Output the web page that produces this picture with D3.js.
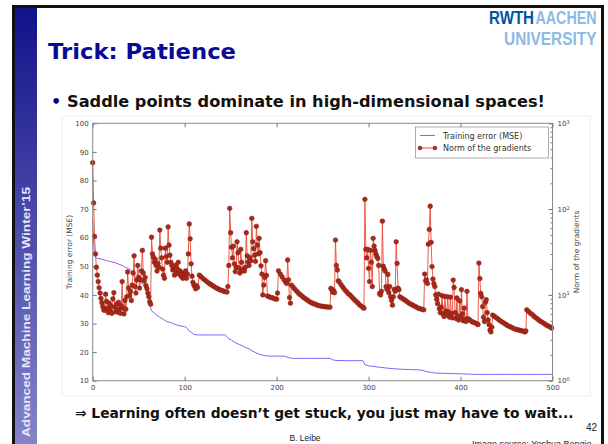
<!DOCTYPE html>
<html>
<head>
<meta charset="utf-8">
<script src="https://cdnjs.cloudflare.com/ajax/libs/d3/7.8.5/d3.min.js"></script>
<style>
  body { margin: 0; background: #fff; }
  svg { display: block; }
</style>
</head>
<body>
<svg id="slide" width="608" height="444"></svg>
<script>
// Training error (MSE), left axis: [iteration, error]
const trainMse = [
  [0,66],[1,58],[2,54],[3,53.2],[5,52.8],[10,52.5],[15,52],[20,51.6],[25,51.2],[28,50.8],[32,50.3],
  [36,49.6],[40,49],[43,48.2],[46,46.5],[50,45],[53,44.3],[56,43],[59,41.5],[61,40.2],[62,39],
  [63,35.5],[64,34.5],[67,33.6],[70,32.8],[73,32.2],[77,31.4],[80,30.8],[84,30.4],[88,29.9],
  [92,29.4],[96,29.1],[100,28.9],[102,28.6],[104,27.6],[107,27],[110,26.2],[114,26],[120,26],
  [130,26],[140,26],[144,26],[146,25.4],[148,24.6],[151,24.2],[154,23.5],[157,23],[160,22.6],
  [163,22.2],[166,21.6],[170,21.2],[173,20.5],[176,20],[180,19.4],[184,19],[188,18.7],[192,18.6],
  [200,18.6],[208,18.6],[211,18.3],[214,18],[218,17.8],[230,17.8],[245,17.8],[258,17.8],[261,17.3],
  [264,17.1],[275,17],[285,17],[294,17],[295,16.2],[296,15.6],[300,15.2],[305,15],[312,14.7],
  [320,14.4],[327,14.2],[335,14],[345,13.9],[355,13.8],[360,13.5],[364,13.1],[368,12.9],[372,12.7],
  [380,12.6],[390,12.5],[400,12.4],[410,12.3],[416,12.2],[430,12.2],[450,12.2],[470,12.2],
  [490,12.2],[500,12.2]
];

// Norm of the gradients, right log axis: [iteration, norm]
const gradNorm = [
  [0,347],[1,118],[2,48],[3,30],[4,21],[5,17],[6,14.3],[7,12.1],[8,10.5],[9,9.1],[10,8.1],[11,7.3],
  [12,6.7],[13,6.6],[14,10.2],[15,8.4],[16,7.0],[17,6.2],[18,8.0],[19,6.5],[20,7.4],[21,6.1],[22,9.0],
  [23,10.6],[24,7.2],[25,6.4],[26,7.8],[27,6.3],[28,8.2],[29,6.8],[30,6.1],[31,7.5],[32,14.3],[33,7.0],
  [34,6.0],[35,8.6],[36,6.8],[37,9.5],[38,18.5],[39,12],[40,9.8],[41,11],[42,8.6],[43,13],[44,18],
  [45,28.5],[46,12.5],[47,10.5],[48,14.9],[49,22],[50,16],[51,12],[52,15],[53,19],[54,33],[55,18],
  [56,14.5],[57,16],[58,12.8],[59,11.8],[60,10.5],[61,9.5],[62,8.3],[63,7.8],
  [64,47],[65,30],[66,27.5],[67,24],[68,26],[69,22],[70,19],[71,23.3],[72,21],[73,57],[74,35],[75,27],
  [76,20],[77,17],[78,15.6],[79,35],[80,28],[81,24],[82,62],[83,38],[84,29],[85,24],[86,22],[87,19.5],
  [88,21],[89,17],[90,22],[91,18],[92,20],[93,24],[94,17.5],[95,19],[96,16.5],[97,18],[98,15.6],[99,17],
  [100,16],[101,19],[102,15.6],[103,17.5],[104,30],[105,67],[106,45],[107,23],[108,16.5],[109,14],
  [110,13],[111,12.5],[112,11.8],[113,12.8],[114,12.2],
  [116,17],[118,16.2],[120,15.5],[122,14.9],[124,14.3],[126,13.8],[128,13.3],[130,12.9],[132,12.5],
  [134,12.1],[136,11.8],[138,11.5],[140,11.3],[142,11.1],[144,10.9],[146,10.8],
  [147,12.5],[148,22],[149,102],[150,53],[151,36],[152,27],[153,37],[154,23],[155,18.7],[156,21],
  [157,41.6],[158,31],[159,20.6],[160,18],[161,34],[162,24],[163,19.2],[164,20],[165,19],[166,21],
  [167,53],[168,28.5],[169,24.2],[170,22],[171,27],[172,25],[173,78],[174,41.6],[175,34.6],[176,29],
  [177,24.6],[178,63],[179,38],[180,30],[181,45.6],[182,31],[183,21.8],[184,17.5],[185,10],[186,13],
  [187,16],[188,25],[189,16.9],[190,9.7],
  [192,9.5],[194,9.3],[196,9.2],[198,9.0],[200,8.9],
  [201,10.5],[202,19.1],[204,17.5],[206,16.2],[208,15],[210,14],[211,13.6],[212,25.5],[213,15],
  [214,9.3],[215,8],
  [216,13],[218,12.3],[220,11.6],[222,11],[224,10.4],[226,10],[228,9.6],[230,9.2],[232,8.9],[234,8.6],
  [236,8.3],[238,8.1],[240,7.9],[242,7.8],[244,7.6],[246,7.5],[248,7.4],[250,7.35],[252,7.3],
  [254,7.25],[256,7.2],[258,7.2],
  [259,11.9],[260,11.6],[261,10.8],[262,11.2],[263,10.6],[264,43.5],[265,22],[266,19.5],[267,14.6],
  [268,14.2],[270,13.2],[272,12.3],[274,11.5],[276,10.9],[278,10.3],[280,9.9],[282,9.4],[284,8.9],
  [286,8.5],[288,8.1],[290,7.7],[292,7.4],[294,7.1],
  [295,7.0],[296,130],[297,34],[298,27],[299,34],[300,20.4],[301,14.3],[302,33],[303,24],[304,12.5],
  [305,45.7],[306,37],[307,33],[308,30],[309,28],[310,26.5],[311,22],[312,10.4],[313,10],[314,11],
  [315,72.4],[316,21.6],[317,20],[318,19],[319,12.5],[320,11.6],[321,17.3],[322,10.6],[323,12.5],
  [324,9.5],[325,8.6],[326,7.6],[327,9.5],[328,11.6],[329,11],[330,41.6],[331,23.3],[332,12],[333,11.5],
  [334,9.5],[336,9.2],[338,8.9],[340,8.6],[342,8.3],[344,8.0],[346,7.8],[348,7.6],[350,7.4],[352,7.2],
  [354,7.0],[356,6.9],[358,6.8],[360,6.7],
  [361,17.5],[362,14.6],[363,15],[364,13.6],[365,39],[366,58],[367,108],[368,41],[369,21.4],[370,15.3],
  [371,13.5],[372,12.5],
  [373,10],[374,8.9],[375,7.9],[376,10.2],[377,6.9],[378,6.2],[379,7.2],[380,9.8],[381,6.0],[382,5.6],
  [383,9.6],[384,6.5],[385,5.8],[386,9.5],[387,6.3],[388,5.5],[389,9.4],[390,6.0],[391,5.4],[392,14.9],
  [393,12.2],[394,6.2],[395,5.3],[396,9.2],[397,5.7],[398,5.1],[399,8.5],[400,5.5],[401,11.5],[402,6.0],
  [403,5.0],[404,7.0],[405,5.2],[406,4.9],[407,11],[408,5.3],
  [410,5.1],[412,4.9],[414,4.8],[416,4.7],[418,4.6],[419,4.5],
  [420,23.5],[421,15.5],[422,10.4],[423,9.5],[424,7.3],[425,5.5],[426,4.9],[427,8.2],[428,8.8],[429,6.2],
  [430,5.1],[431,4.5],[432,3.9],[433,3.7],[434,4.2],
  [435,5.8],[437,5.6],[439,5.4],[441,5.2],[443,5.0],[445,4.85],[447,4.7],[449,4.55],[451,4.4],[453,4.3],
  [455,4.2],[457,4.1],[459,4.0],[461,3.95],[463,3.9],[465,3.85],[467,3.8],[469,3.75],[470,3.7],
  [471,3.8],[472,6.7],[474,6.4],[476,6.1],[478,5.9],[480,5.6],[482,5.4],[484,5.2],[486,5.0],[488,4.85],
  [490,4.7],[492,4.55],[494,4.4],[496,4.3],[498,4.2],[499,4.1]
];

const xTicks = [0, 100, 200, 300, 400, 500];
const yLeftTicks = [10, 20, 30, 40, 50, 60, 70, 80, 90, 100];
const yRightTicks = [1, 10, 100, 1000];
const legendLabels = ['Training error (MSE)', 'Norm of the gradients'];

const svg = d3.select('#slide');
const mplFont = 'DejaVu Sans, sans-serif';

//Slide frame and the blue side bar.
let grad = svg.append('defs').append('linearGradient').attr('id', 'bar').attr('x1', 0).attr('y1', 0).attr('x2', 0).attr('y2', 1);
grad.append('stop').attr('offset', 0).attr('stop-color', '#12128a');
grad.append('stop').attr('offset', 1).attr('stop-color', '#8484c8');
svg.append('rect').attr('x', 15).attr('y', 8).attr('width', 22).attr('height', 436).attr('fill', 'url(#bar)');
svg.append('rect').attr('x', 12).attr('y', 5).attr('width', 3).attr('height', 439).attr('fill', '#111');
svg.append('rect').attr('x', 12).attr('y', 5).attr('width', 592).attr('height', 3).attr('fill', '#111');

svg.append('text')
  .attr('transform', 'translate(30,437)rotate(-90)')
  .attr('textLength', 250).attr('lengthAdjust', 'spacingAndGlyphs')
  .style('font-family', 'Liberation Sans, Arial, sans-serif').style('font-weight', 'bold')
  .style('font-size', '11px').attr('fill', '#e6e6fa')
  .text('Advanced Machine Learning Winter\u201915');

//Logo: a single text with one tspan per colour / line.
const logoFont = 'Liberation Sans Narrow, Liberation Sans, sans-serif';
let logo = svg.append('text').style('font-family', logoFont).style('font-weight', 'bold').style('font-size', '19px');
logo.append('tspan').attr('x', 489).attr('y', 23.5).attr('fill', '#00549f').attr('textLength', 45)
  .attr('lengthAdjust', 'spacingAndGlyphs').text('RWTH');
logo.append('tspan').attr('x', 535.5).attr('y', 23.5).attr('fill', '#8ebae5').attr('textLength', 61)
  .attr('lengthAdjust', 'spacingAndGlyphs').text('AACHEN');
logo.append('tspan').attr('x', 504).attr('y', 44.5).attr('fill', '#8ebae5').attr('textLength', 92.5)
  .attr('lengthAdjust', 'spacingAndGlyphs').text('UNIVERSITY');

//Title and bullets.
svg.append('text').attr('x', 48).attr('y', 59).attr('textLength', 188).attr('lengthAdjust', 'spacingAndGlyphs')
  .style('font-family', 'DejaVu Sans, sans-serif').style('font-weight', 'bold').style('font-size', '22px')
  .attr('fill', '#0a0a96').text('Trick: Patience');
svg.append('text').attr('x', 51).attr('y', 107).style('font-family', 'DejaVu Sans, sans-serif')
  .style('font-size', '16px').style('font-weight', 'bold').attr('fill', '#000080').text('\u2022');
svg.append('text').attr('x', 67).attr('y', 107).attr('textLength', 478).attr('lengthAdjust', 'spacingAndGlyphs')
  .style('font-family', 'DejaVu Sans, sans-serif').style('font-weight', 'bold').style('font-size', '16px')
  .attr('fill', '#111').text('Saddle points dominate in high-dimensional spaces!');
svg.append('text').attr('x', 75).attr('y', 418)
  .style('font-family', 'DejaVu Sans, sans-serif').style('font-weight', 'bold').style('font-size', '13.8px')
  .attr('fill', '#111').text('\u21d2 Learning often doesn\u2019t get stuck, you just may have to wait...');
svg.append('text').attr('x', 305).attr('y', 441).attr('text-anchor', 'middle')
  .style('font-family', 'Liberation Sans, Arial, sans-serif').style('font-size', '8.5px').attr('fill', '#222').text('B. Leibe');
svg.append('text').attr('x', 597).attr('y', 431).attr('text-anchor', 'end')
  .style('font-family', 'Liberation Sans, Arial, sans-serif').style('font-size', '10px').attr('fill', '#222').text('42');
svg.append('text').attr('x', 472).attr('y', 446.5)
  .style('font-family', 'Liberation Sans, Arial, sans-serif').style('font-size', '9px').attr('fill', '#222').text('Image source: Yoshua Bengio');
svg.append('rect').attr('x', 601).attr('y', 5).attr('width', 3).attr('height', 439).attr('fill', '#111');
svg.append('rect').attr('x', 604).attr('y', 0).attr('width', 4).attr('height', 444).attr('fill', '#fff');

//Chart.
const plotLeft = 92.7, plotRight = 552.5, plotTop = 123.3, plotBottom = 380.7;
const x = d3.scaleLinear().domain([0, 500]).range([plotLeft, plotRight]);
const yL = d3.scaleLinear().domain([10, 100]).range([plotBottom, plotTop]);
const yR = d3.scaleLog().domain([1, 1000]).range([plotBottom, plotTop]);

const chart = svg.append('g');
chart.append('rect').attr('x', 62).attr('y', 116).attr('width', 528).attr('height', 280)
  .attr('fill', '#fff').attr('stroke', '#eee');

function styleAxis(g) {
  g.select('.domain').remove();
  g.selectAll('line').attr('stroke', '#777');
  g.selectAll('text').style('font-family', mplFont).style('font-size', '7px').attr('fill', '#444');
}

chart.append('g').attr('transform', `translate(0,${plotBottom})`)
  .call(d3.axisBottom(x).tickValues(xTicks).tickSize(-4).tickPadding(4)).call(styleAxis);
chart.append('g').attr('transform', `translate(0,${plotTop})`)
  .call(d3.axisTop(x).tickValues(xTicks).tickSize(-4).tickFormat('')).call(styleAxis);
chart.append('g').attr('transform', `translate(${plotLeft},0)`)
  .call(d3.axisLeft(yL).tickValues(yLeftTicks).tickSize(-4).tickPadding(4)).call(styleAxis);
chart.append('g').attr('transform', `translate(${plotRight},0)`)
  .call(d3.axisRight(yR).tickValues(yR.ticks()).tickSize(-2).tickFormat('')).call(styleAxis);
let rAxis = chart.append('g').attr('transform', `translate(${plotRight},0)`)
  .call(d3.axisRight(yR).tickValues(yRightTicks).tickSize(-4).tickPadding(5)).call(styleAxis);
rAxis.selectAll('text').each(function (d) {
  let t = d3.select(this).text('10');
  t.append('tspan').attr('dy', '-0.45em').style('font-size', '5px').text(Math.round(Math.log10(d)));
});

chart.append('text').attr('transform', `translate(72,${(plotTop + plotBottom) / 2})rotate(-90)`).attr('text-anchor', 'middle')
  .style('font-family', mplFont).style('font-size', '7.5px').attr('fill', '#444').text('Training error (MSE)');
chart.append('text').attr('transform', `translate(579,${(plotTop + plotBottom) / 2})rotate(-90)`).attr('text-anchor', 'middle')
  .style('font-family', mplFont).style('font-size', '7.5px').attr('fill', '#444').text('Norm of the gradients');

const mseLine = d3.line().x(d => x(d[0])).y(d => yL(d[1]));
const gradLine = d3.line().x(d => x(d[0])).y(d => yR(d[1]));

chart.append('path').attr('d', mseLine(trainMse)).attr('fill', 'none').attr('stroke', '#8664f2').attr('stroke-width', 1);
chart.append('path').attr('d', gradLine(gradNorm)).attr('fill', 'none').attr('stroke', '#ea4a34').attr('stroke-width', 0.9);
chart.append('g').selectAll('circle').data(gradNorm).join('circle')
  .attr('cx', d => x(d[0])).attr('cy', d => yR(d[1])).attr('r', 2.4)
  .attr('fill', '#a8281a').attr('stroke', '#7d1b0f').attr('stroke-width', 0.4);

chart.append('rect').attr('x', plotLeft).attr('y', plotTop).attr('width', plotRight - plotLeft).attr('height', plotBottom - plotTop)
  .attr('fill', 'none').attr('stroke', '#888').attr('stroke-width', 1);

//Legend.
const legend = chart.append('g');
legend.append('rect').attr('x', 415.5).attr('y', 127).attr('width', 133).attr('height', 31)
  .attr('fill', '#fff').attr('stroke', '#999').attr('stroke-width', 0.8);
legend.append('line').attr('x1', 420).attr('x2', 435).attr('y1', 135.5).attr('y2', 135.5).attr('stroke', '#8664f2');
legend.append('line').attr('x1', 420).attr('x2', 435).attr('y1', 148).attr('y2', 148).attr('stroke', '#ea4a34');
legend.selectAll('circle').data([420, 435]).join('circle').attr('cx', d => d).attr('cy', 148).attr('r', 2)
  .attr('fill', '#a8281a').attr('stroke', '#7d1b0f').attr('stroke-width', 0.4);
legend.selectAll('text').data(legendLabels).join('text')
  .attr('x', 443).attr('y', (d, i) => 138.5 + i * 12.5)
  .style('font-family', mplFont).style('font-size', '8px').attr('fill', '#333').text(d => d);
</script>
</body>
</html>
